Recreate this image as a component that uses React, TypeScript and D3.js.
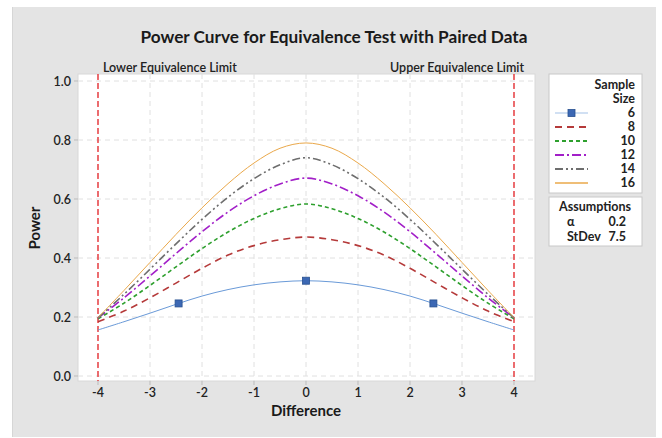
import React from "react";
import * as d3 from "d3";

const diffs = [-4, -3.5, -3, -2.5, -2, -1.5, -1, -0.5, 0, 0.5, 1, 1.5, 2, 2.5, 3, 3.5, 4];
const n6 = [0.156, 0.184, 0.213, 0.243, 0.271, 0.293, 0.309, 0.319, 0.323, 0.319, 0.309, 0.293, 0.271, 0.243, 0.213, 0.184, 0.156];
const n8 = [0.184, 0.22, 0.265, 0.315, 0.365, 0.41, 0.442, 0.462, 0.471, 0.462, 0.442, 0.41, 0.365, 0.315, 0.265, 0.22, 0.184];
const n10 = [0.194, 0.247, 0.307, 0.37, 0.432, 0.488, 0.534, 0.567, 0.583, 0.567, 0.534, 0.488, 0.432, 0.37, 0.307, 0.247, 0.194];
const n12 = [0.197, 0.265, 0.339, 0.415, 0.489, 0.556, 0.611, 0.651, 0.671, 0.651, 0.611, 0.556, 0.489, 0.415, 0.339, 0.265, 0.197];
const n14 = [0.197, 0.277, 0.362, 0.448, 0.531, 0.606, 0.669, 0.716, 0.74, 0.716, 0.669, 0.606, 0.531, 0.448, 0.362, 0.277, 0.197];
const n16 = [0.198, 0.29, 0.385, 0.48, 0.57, 0.652, 0.722, 0.772, 0.79, 0.772, 0.722, 0.652, 0.57, 0.48, 0.385, 0.29, 0.198];
const markerX = [-2.45, 0, 2.45];
const markerY = [0.246, 0.323, 0.246];
const sampleSizes = ["6", "8", "10", "12", "14", "16"];
const xTicks = [-4, -3, -2, -1, 0, 1, 2, 3, 4];
const yTicks = [0, 0.2, 0.4, 0.6, 0.8, 1.0];
const limits = [-4, 4];

const seriesData = [n6, n8, n10, n12, n14, n16];
const colors = ["#6a9ad8", "#b53a3a", "#2ea02e", "#a21fc8", "#6e6e6e", "#eaa84a"];
const dashes = ["", "7,5", "4,3", "9,3,2,3", "8,3,2,3,2,3", ""];
const widths = [1, 1.6, 1.6, 1.6, 1.6, 1];

const FONT = "Lato, 'Open Sans', sans-serif";

export default function App() {
  const W = 662, H = 438;
  const pl = 78, pr = 535, pt = 74, pb = 381;
  const x = d3.scaleLinear().domain([-4, 4]).range([98, 514]);
  const y = d3.scaleLinear().domain([0, 1]).range([376, 81]);
  const line = d3.line<number>().x((_, i) => x(diffs[i])).y((d) => y(d)).curve(d3.curveCatmullRom.alpha(0.5));

  const lx = 549, ly = 74, lw = 93, lh = 119;
  return (
    <svg width={W} height={H} style={{ position: "absolute", left: 0, top: 0, fontFamily: FONT }}>
      <rect x={0} y={0} width={W} height={H} fill="#ffffff" />
      <rect x={12} y={7} width={644} height={430} fill="#e4e4e4" />
      <line x1={12.5} y1={7} x2={12.5} y2={437} stroke="#d6d6d6" />
      <text x={334} y={43} textAnchor="middle" fontSize={17} fontWeight={700} fill="#1a1a1a" textLength={387} lengthAdjust="spacingAndGlyphs">
        Power Curve for Equivalence Test with Paired Data
      </text>
      <rect x={pl} y={pt} width={pr - pl} height={pb - pt} fill="#ffffff" stroke="#d8d8d8" />
      {xTicks.map((t) => (
        <g key={"gx" + t}>
          <line x1={x(t)} x2={x(t)} y1={pt} y2={pb} stroke="#e0e0e0" strokeDasharray="5,4" />
          <line x1={x(t)} x2={x(t)} y1={pb} y2={pb + 4} stroke="#bbbbbb" />
          <text x={x(t)} y={pb + 16} textAnchor="middle" fontSize={12.5} fontWeight={600} fill="#222">
            {t < 0 ? "-" + Math.abs(t) : String(t)}
          </text>
        </g>
      ))}
      {yTicks.map((t) => (
        <g key={"gy" + t}>
          <line x1={pl} x2={pr} y1={y(t)} y2={y(t)} stroke="#e0e0e0" strokeDasharray="5,4" />
          <line x1={pl - 4} x2={pl} y1={y(t)} y2={y(t)} stroke="#bbbbbb" />
          <text x={pl - 7} y={y(t) + 4.5} textAnchor="end" fontSize={12.5} fontWeight={600} fill="#222">
            {t.toFixed(1)}
          </text>
        </g>
      ))}
      {limits.map((l) => (
        <line key={"lim" + l} x1={x(l)} x2={x(l)} y1={pt} y2={pb} stroke="#e8262a" strokeWidth={1.3} strokeDasharray="6,3" />
      ))}
      <text x={103} y={72} fontSize={12.5} fontWeight={600} fill="#222">Lower Equivalence Limit</text>
      <text x={524} y={72} textAnchor="end" fontSize={12.5} fontWeight={600} fill="#222">Upper Equivalence Limit</text>
      {seriesData.map((s, i) => (
        <path key={"s" + i} d={line(s) || ""} fill="none" stroke={colors[i]} strokeWidth={widths[i]} strokeDasharray={dashes[i] || undefined} />
      ))}
      {markerX.map((m, i) => (
        <rect key={"m" + i} x={x(m) - 3.5} y={y(markerY[i]) - 3.5} width={7} height={7} fill="#3c68b4" stroke="#27508f" strokeWidth={0.8} />
      ))}
      <text x={306} y={416} textAnchor="middle" fontSize={15} fontWeight={700} fill="#1a1a1a">Difference</text>
      <text transform="translate(40,228) rotate(-90)" textAnchor="middle" fontSize={15} fontWeight={700} fill="#1a1a1a">Power</text>

      <rect x={lx} y={ly} width={lw} height={lh} fill="#ffffff" stroke="#c8c8c8" />
      <text x={635} y={89} textAnchor="end" fontSize={12.5} fontWeight={700} fill="#222">Sample</text>
      <text x={635} y={103} textAnchor="end" fontSize={12.5} fontWeight={700} fill="#222">Size</text>
      {sampleSizes.map((s, i) => {
        const yy = 117 + i * 14;
        return (
          <g key={"leg" + s}>
            <line x1={555} x2={588} y1={yy - 4} y2={yy - 4} stroke={colors[i]} strokeWidth={widths[i] + 0.3} strokeDasharray={dashes[i] || undefined} opacity={i === 0 ? 0.4 : 1} />
            {i === 0 && <rect x={568} y={yy - 7.5} width={7} height={7} fill="#3c68b4" stroke="#27508f" strokeWidth={0.8} />}
            <text x={635} y={yy} textAnchor="end" fontSize={12.5} fontWeight={700} fill="#222">{s}</text>
          </g>
        );
      })}
      <rect x={549} y={197} width={93} height={49} fill="#ffffff" stroke="#c8c8c8" />
      <text x={595} y={211} textAnchor="middle" fontSize={12.5} fontWeight={700} fill="#222">Assumptions</text>
      <text x={567} y={226} fontSize={12.5} fontWeight={700} fill="#222">α</text>
      <text x={626} y={226} textAnchor="end" fontSize={12.5} fontWeight={700} fill="#222">0.2</text>
      <text x={567} y={241} fontSize={12.5} fontWeight={700} fill="#222">StDev</text>
      <text x={626} y={241} textAnchor="end" fontSize={12.5} fontWeight={700} fill="#222">7.5</text>
    </svg>
  );
}
